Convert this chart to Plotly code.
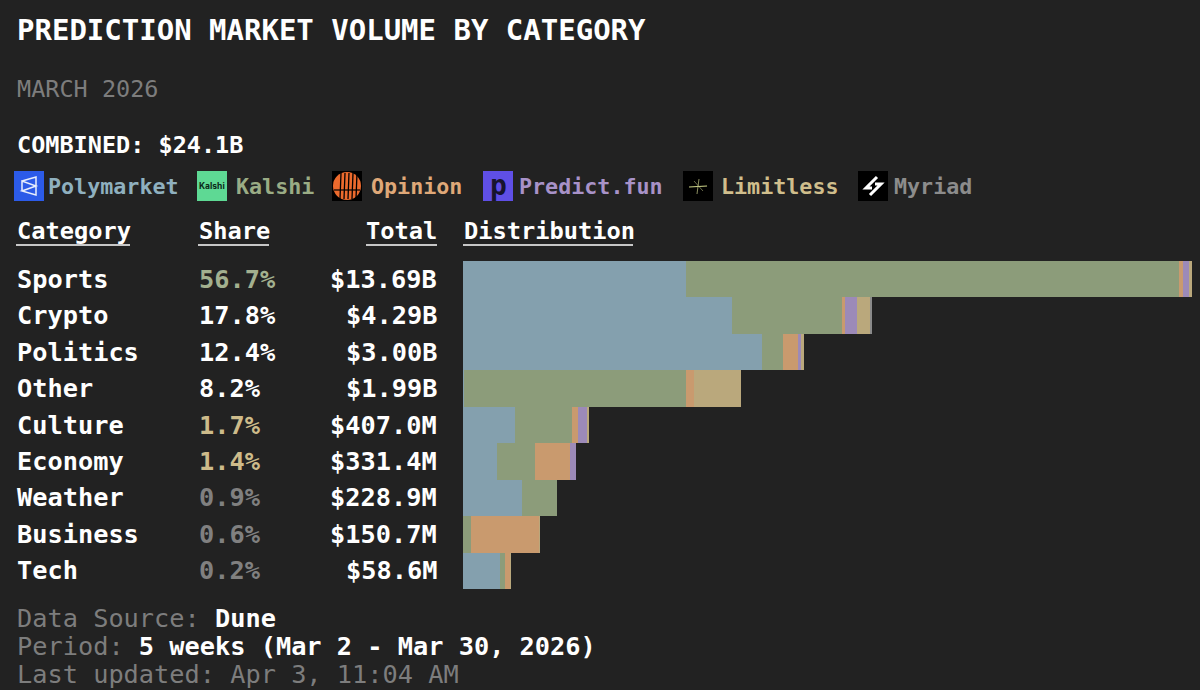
import math
import plotly.graph_objects as go

W, H = 1200, 690
BG = '#222222'
MONO = 'DejaVu Sans Mono'

categories = ['Sports', 'Crypto', 'Politics', 'Other', 'Culture', 'Economy', 'Weather', 'Business', 'Tech']
share_pct = ['56.7%', '17.8%', '12.4%', '8.2%', '1.7%', '1.4%', '0.9%', '0.6%', '0.2%']
share_colors = ['#a3b08f', '#ffffff', '#ffffff', '#ffffff', '#cdbb8a', '#cdbb8a', '#808080', '#808080', '#808080']
total_labels = ['$13.69B', '$4.29B', '$3.00B', '$1.99B', '$407.0M', '$331.4M', '$228.9M', '$150.7M', '$58.6M']
totals_b = [13.69, 4.29, 3.00, 1.99, 0.407, 0.3314, 0.2289, 0.1507, 0.0586]

platforms = ['Polymarket', 'Kalshi', 'Opinion', 'Predict.fun', 'Limitless', 'Myriad']
bar_colors = ['#84a0ae', '#8c9c7a', '#c99a6e', '#9c8ab8', '#baa87c', '#8a8a8a']
text_colors = ['#8fb0bf', '#9aac85', '#dfa878', '#a892c8', '#d0be8c', '#8c8c8c']

# percent of each category's volume, per platform
polymarket = [30.6, 65.8, 87.6, 0.4, 41.7, 30.1, 62.8, 0.5, 78.0]
kalshi = [67.7, 27.3, 6.1, 79.7, 45.3, 33.2, 37.2, 9.5, 10.6]
opinion = [0.55, 0.4, 4.4, 2.9, 4.7, 31.4, 0.0, 89.9, 10.4]
predict_fun = [0.69, 3.1, 1.0, 0.0, 7.1, 5.3, 0.0, 0.0, 0.5]
limitless = [0.48, 3.3, 0.9, 17.0, 1.2, 0.0, 0.0, 0.1, 0.5]
myriad = [0.0, 0.1, 0.0, 0.0, 0.0, 0.0, 0.0, 0.0, 0.0]
platform_shares = [polymarket, kalshi, opinion, predict_fun, limitless, myriad]


def px(x):
    return x / W


def py(y):
    return 1 - y / H


def label(x, y, text, size, color='#ffffff', bold=True, anchor='left'):
    return dict(x=px(x), y=py(y), xref='paper', yref='paper', text=text, showarrow=False,
                xanchor=anchor, yanchor='middle', align=anchor, borderpad=0,
                font=dict(family=MONO, size=size, color=color, weight=700 if bold else 400))


def poly_path(points, close=True):
    d = 'M' + ' L'.join(f'{px(x):.5f} {py(y):.5f}' for x, y in points)
    return d + (' Z' if close else '')


def stroked(points, color, width=1.5, close=False):
    return dict(type='path', xref='paper', yref='paper', path=poly_path(points, close),
                line=dict(color=color, width=width), layer='above')


def square(x0, color):
    return dict(type='rect', xref='paper', yref='paper', x0=px(x0), x1=px(x0 + 30),
                y0=py(201), y1=py(171), fillcolor=color, line=dict(width=0), layer='above')


fig = go.Figure()

# bar length goes with the square root of the total
for name, shares, color in zip(platforms, platform_shares, bar_colors):
    lengths = [s / sum(col) * math.sqrt(t)
               for s, t, col in zip(shares, totals_b, zip(*platform_shares))]
    fig.add_trace(go.Bar(y=categories, x=lengths, name=name, orientation='h',
                         marker=dict(color=color, line=dict(width=0))))

annotations = [
    label(15.5, 30, 'PREDICTION MARKET VOLUME BY CATEGORY', 29),
    label(15.5, 89, 'MARCH 2026', 23.5, '#7d7d7d', False),
    label(15.5, 145, 'COMBINED: $24.1B', 23.5),
    label(15.5, 231, 'Category', 23.7),
    label(197.5, 231, 'Share', 23.7),
    label(438, 231, 'Total', 23.7, anchor='right'),
    label(462.5, 231, 'Distribution', 23.7),
    label(15.5, 618.5, 'Data Source: <span style="color:#ffffff;font-weight:700">Dune</span>', 25.3, '#7d7d7d', False),
    label(15.5, 646.5, 'Period: <span style="color:#ffffff;font-weight:700">5 weeks (Mar 2 - Mar 30, 2026)</span>', 25.3, '#7d7d7d', False),
    label(15.5, 674.5, 'Last updated: Apr 3, 11:04 AM', 25.3, '#7d7d7d', False),
]

legend_x = [46.5, 234.5, 369.5, 517.5, 719.5, 892.5]
for name, x, color in zip(platforms, legend_x, text_colors):
    annotations.append(label(x, 186, name, 21.7, color))

for i, cat in enumerate(categories):
    for x, text, color, anchor in [(15.5, cat, '#ffffff', 'left'),
                                   (197.5, share_pct[i], share_colors[i], 'left'),
                                   (438, total_labels[i], '#ffffff', 'right')]:
        a = label(x, 0, text, 25.3, color, anchor=anchor)
        a.update(y=cat, yref='y')
        annotations.append(a)

annotations.append(dict(label(212, 186, 'Kalshi', 7.5, '#0b2a18', anchor='center'),
                        font=dict(family='Inter', size=8.5, color='#0b2a18', weight=700)))
annotations.append(label(498, 185, 'p', 28, '#17142e', anchor='center'))

shapes = []
for x0, x1 in [(16, 130), (198, 269), (366, 437), (463, 633)]:
    shapes.append(dict(type='line', xref='paper', yref='paper', x0=px(x0), x1=px(x1),
                       y0=py(245), y1=py(245), line=dict(color='#ffffff', width=1.5)))

# platform logos
shapes.append(square(14, '#2c5be8'))
shapes.append(stroked([(22, 181), (36, 177), (36, 195), (22, 191), (36, 186), (22, 181), (22, 191)], '#e8eefc'))
shapes.append(square(197, '#5ed994'))
shapes.append(square(332, '#000000'))
shapes.append(dict(type='circle', xref='paper', yref='paper', x0=px(333), x1=px(361),
                   y0=py(200), y1=py(172), fillcolor='#ec6a2d', line=dict(width=0), layer='above'))
for x in [341, 345, 349, 353, 357]:
    shapes.append(stroked([(x, 173), (x - 1, 199)], '#000000', 1.3))
shapes.append(stroked([(334, 190), (360, 190)], '#000000', 1.2))
shapes.append(square(483, '#5f4fe6'))
shapes.append(square(683, '#000000'))
shapes.append(stroked([(689, 187), (707, 186)], '#cfd68a', 1.2))
shapes.append(stroked([(699, 179), (697, 194)], '#aeb27a', 0.8))
shapes.append(stroked([(694, 181), (703, 191)], '#aeb27a', 0.6))
shapes.append(square(858, '#000000'))
shapes.append(stroked([(877, 177), (866, 188), (872, 188)], '#ffffff', 3))
shapes.append(stroked([(870, 195), (881, 184), (875, 184)], '#ffffff', 3))

fig.update_layout(
    width=W, height=H, margin=dict(l=0, r=0, t=0, b=0),
    paper_bgcolor=BG, plot_bgcolor=BG, barmode='stack', bargap=0, showlegend=False,
    xaxis=dict(domain=[px(463), px(1192)], range=[0, math.sqrt(totals_b[0])], visible=False),
    yaxis=dict(domain=[py(589), py(261)], categoryorder='array', categoryarray=categories,
               autorange='reversed', visible=False),
    annotations=annotations, shapes=shapes,
)

fig.write_html("out.html", config=dict(displayModeBar=False),
               post_script="document.body.style.margin='0';document.body.style.background='#222222';")
